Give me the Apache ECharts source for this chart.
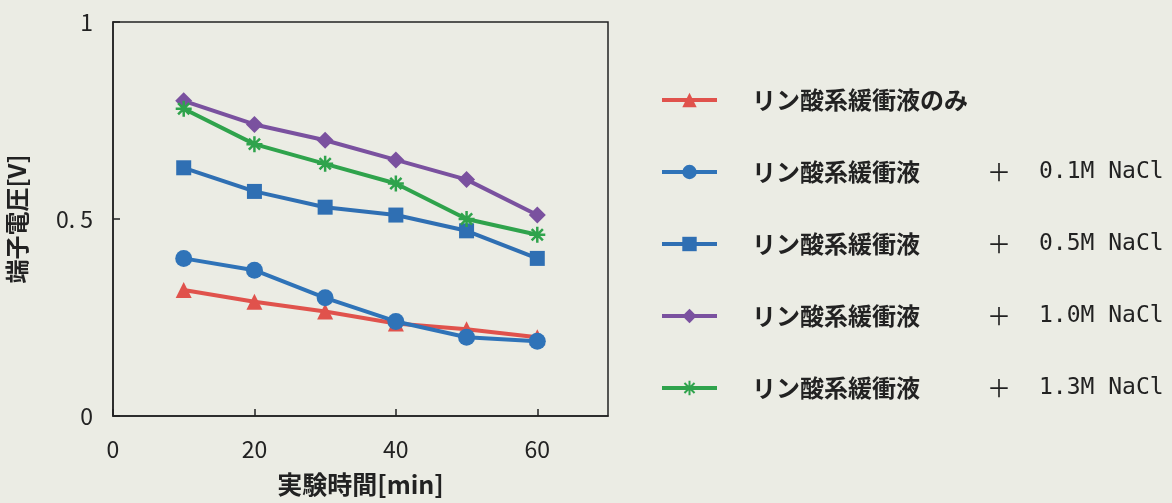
<!DOCTYPE html>
<html>
<head>
<meta charset="utf-8">
<script src="https://cdn.jsdelivr.net/npm/echarts@6/dist/echarts.min.js"></script>
<style>
  html, body { margin: 0; padding: 0; background: #ebece4; }
  #main { width: 1172px; height: 503px; }
</style>
</head>
<body>
<div id="main"></div>
<script>
var chartDom = document.getElementById('main');
var myChart = echarts.init(chartDom);
var option;

// time [min]
var times = [10, 20, 30, 40, 50, 60];

var seriesNames = [
    'リン酸系緩衝液のみ',
    'リン酸系緩衝液+0.1M NaCl',
    'リン酸系緩衝液+0.5M NaCl',
    'リン酸系緩衝液+1.0M NaCl',
    'リン酸系緩衝液+1.3M NaCl'
];

// terminal voltage [V]
var bufferOnly = [0.32, 0.29, 0.265, 0.235, 0.22, 0.20];
var nacl01 = [0.40, 0.37, 0.30, 0.24, 0.20, 0.19];
var nacl05 = [0.63, 0.57, 0.53, 0.51, 0.47, 0.40];
var nacl10 = [0.80, 0.74, 0.70, 0.65, 0.60, 0.51];
var nacl13 = [0.78, 0.69, 0.64, 0.59, 0.50, 0.46];

var yTicks = [0, 0.5, 1];

function pairs(vals) {
    return times.map(function (t, i) { return [t, vals[i]]; });
}

var font = '"Noto Sans CJK JP", "DejaVu Sans", sans-serif';
var textColor = '#222';

var asterisk = 'path://M0,5 L10,5 M5,0 L5,10 M1.5,1.5 L8.5,8.5 M8.5,1.5 L1.5,8.5';

function lineSeries(name, vals, color, symbol, size, extraItem) {
    var item = { color: color };
    if (extraItem) {
        for (var k in extraItem) item[k] = extraItem[k];
    }
    return {
        name: name,
        type: 'line',
        data: pairs(vals),
        symbol: symbol,
        symbolSize: size,
        lineStyle: { width: 4, color: color },
        itemStyle: item,
        animation: false
    };
}

option = {
    backgroundColor: '#ebece4',
    grid: {
        left: 113,
        top: 22,
        right: 564,
        bottom: 87,
        show: true,
        borderColor: '#222',
        borderWidth: 1.5,
        backgroundColor: 'transparent'
    },
    legend: {
        orient: 'vertical',
        left: 660,
        top: 88,
        padding: 0,
        itemWidth: 55,
        itemHeight: 18,
        itemGap: 48,
        lineStyle: { width: 4 },
        data: seriesNames,
        textStyle: {
            color: textColor,
            fontFamily: font,
            fontSize: 24,
            rich: {
                a: { fontFamily: font, fontSize: 24, fontWeight: 'bold', width: 235, lineHeight: 30, padding: [0, 0, 0, 30], color: textColor },
                b: { fontFamily: font, fontSize: 24, width: 52, lineHeight: 30, color: textColor },
                c: { fontFamily: '"DejaVu Sans Mono", monospace', fontSize: 23, lineHeight: 30, color: textColor }
            }
        },
        formatter: function (name) {
            var parts = name.split('+');
            if (parts.length === 1) {
                return '{a|' + name + '}';
            }
            return '{a|' + parts[0] + '}{b|＋}{c|' + parts[1] + '}';
        }
    },
    xAxis: {
        type: 'value',
        min: 0,
        max: 70,
        interval: 20,
        name: '実験時間[min]',
        nameLocation: 'middle',
        nameGap: 56,
        nameTextStyle: { fontFamily: font, fontSize: 25, fontWeight: 'bold', color: textColor, verticalAlign: 'top' },
        splitLine: { show: false },
        axisLine: { show: true, lineStyle: { color: '#222', width: 1.5 } },
        axisTick: { show: true, inside: true, length: 7, lineStyle: { color: '#222', width: 1.5 } },
        axisLabel: {
            showMaxLabel: false,
            margin: 22,
            fontFamily: font,
            fontSize: 23,
            color: textColor
        }
    },
    yAxis: {
        type: 'value',
        min: yTicks[0],
        max: yTicks[yTicks.length - 1],
        interval: 0.5,
        name: '端子電圧[V]',
        nameLocation: 'middle',
        nameGap: 84,
        nameRotate: 90,
        nameTextStyle: { fontFamily: font, fontSize: 24, fontWeight: 'bold', color: textColor },
        splitLine: { show: false },
        axisLine: { show: true, lineStyle: { color: '#222', width: 1.5 } },
        axisTick: { show: true, inside: true, length: 7, lineStyle: { color: '#222', width: 1.5 } },
        axisLabel: {
            margin: 20,
            fontFamily: font,
            fontSize: 23,
            color: textColor,
            formatter: function (v) { return v === 0.5 ? '0. 5' : String(v); }
        }
    },
    series: [
        lineSeries(seriesNames[0], bufferOnly, '#e0524c', 'triangle', 16),
        lineSeries(seriesNames[1], nacl01, '#2f73b8', 'circle', 17),
        lineSeries(seriesNames[2], nacl05, '#2f6fb3', 'rect', 15),
        lineSeries(seriesNames[3], nacl10, '#7a519f', 'diamond', 17),
        lineSeries(seriesNames[4], nacl13, '#2fa34c', asterisk, 16, { borderColor: '#2fa34c', borderWidth: 2.5 })
    ]
};

option && myChart.setOption(option);
</script>
</body>
</html>
